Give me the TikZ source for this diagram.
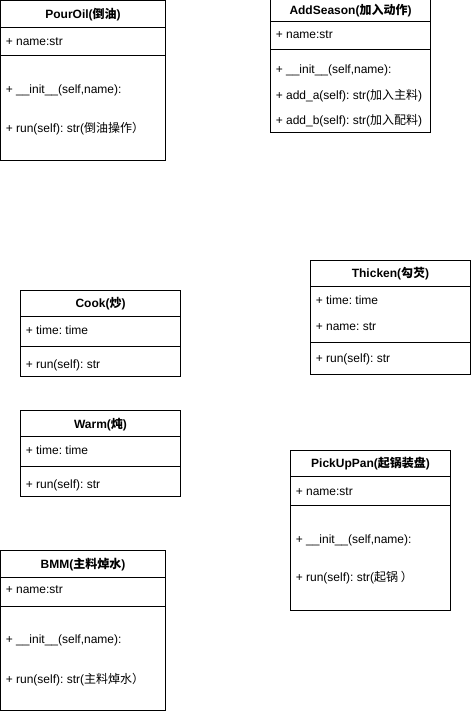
\documentclass[tikz,border=0pt]{standalone}
\usepackage{fontspec}
\setmainfont{Liberation Sans}
\newfontfamily\cj{Noto Sans CJK SC}
\frenchspacing
\tikzset{
  box/.style={draw=black, line width=0.75pt},
  sepline/.style={draw=black, line width=0.75pt},
  ttl/.style={font=\fontsize{9}{11}\selectfont\bfseries, anchor=base, inner sep=0pt},
  attr/.style={font=\fontsize{9}{11}\selectfont, anchor=base west, inner sep=0pt},
}
\begin{document}
\begin{tikzpicture}[x=0.75pt,y=-0.75pt]
\useasboundingbox (0,0) rectangle (471,714);
\fill[white] (0,0) rectangle (471,714);

% PourOil
\draw[box] (0.5,0.5) rectangle (165,160.5);
\draw[sepline] (0.5,27.5) -- (165,27.5);
\draw[sepline] (0.5,55.5) -- (165,55.5);
\node[ttl] (pourT) at (83,18) {PourOil({\cj 倒油})};
\node[attr] (pourA) at (5.5,45) {+ name:str};
\node[attr] (pourI) at (5.5,93) {+ \_\_init\_\_(self,name):};
\node[attr] (pourR) at (5.5,132) {+ run(self): str({\cj 倒油操作）}};

% AddSeason
\draw[box] (270.5,-4) rectangle (430.5,132.5);
\draw[sepline] (270.5,21.5) -- (430.5,21.5);
\draw[sepline] (270.5,49.5) -- (430.5,49.5);
\node[ttl] (addT) at (350.5,14) {AddSeason({\cj 加入动作})};
\node[attr] (addA) at (275.5,38) {+ name:str};
\node[attr] (addI) at (275.5,73) {+ \_\_init\_\_(self,name):};
\node[attr] (addM) at (275.5,99) {+ add\_a(self): str({\cj 加入主料})};
\node[attr] (addN) at (275.5,124) {+ add\_b(self): str({\cj 加入配料})};

% Thicken
\draw[box] (310.5,260.5) rectangle (470.5,374.5);
\draw[sepline] (310.5,286.5) -- (470.5,286.5);
\draw[sepline] (310.5,342.5) -- (470.5,342.5);
\node[ttl] (thT) at (390.5,277) {Thicken({\cj 勾芡})};
\node[attr] (thA) at (315.5,304) {+ time: time};
\node[attr] (thB) at (315.5,330) {+ name: str};
\node[attr] (thR) at (315.5,362) {+ run(self): str};

% Cook
\draw[box] (20.5,290.5) rectangle (180.5,376.5);
\draw[sepline] (20.5,316.5) -- (180.5,316.5);
\draw[sepline] (20.5,346.5) -- (180.5,346.5);
\node[ttl] (ckT) at (100.5,307) {Cook({\cj 炒})};
\node[attr] (ckA) at (25.5,334) {+ time: time};
\node[attr] (ckR) at (25.5,368) {+ run(self): str};

% Warm
\draw[box] (20.5,410.5) rectangle (180.5,496.5);
\draw[sepline] (20.5,436.5) -- (180.5,436.5);
\draw[sepline] (20.5,466.5) -- (180.5,466.5);
\node[ttl] (wmT) at (100.5,428) {Warm({\cj 炖})};
\node[attr] (wmA) at (25.5,454) {+ time: time};
\node[attr] (wmR) at (25.5,488) {+ run(self): str};

% PickUpPan
\draw[box] (290.5,450.5) rectangle (450.5,610.5);
\draw[sepline] (290.5,476.5) -- (450.5,476.5);
\draw[sepline] (290.5,505.5) -- (450.5,505.5);
\node[ttl] (puT) at (370.5,467) {PickUpPan({\cj 起锅装盘})};
\node[attr] (puA) at (295.5,495) {+ name:str};
\node[attr] (puI) at (295.5,543) {+ \_\_init\_\_(self,name):};
\node[attr] (puR) at (295.5,581) {+ run(self): str({\cj 起锅 ）}};

% BMM
\draw[box] (0.5,550.5) rectangle (165,710.5);
\draw[sepline] (0.5,577.5) -- (165,577.5);
\draw[sepline] (0.5,606.5) -- (165,606.5);
\node[ttl] (bmT) at (83,568) {BMM({\cj 主料焯水})};
\node[attr] (bmA) at (5.5,593) {+ name:str};
\node[attr] (bmI) at (5.5,643) {+ \_\_init\_\_(self,name):};
\node[attr] (bmR) at (5.5,683) {+ run(self): str({\cj 主料焯水）}};
\end{tikzpicture}
\end{document}
